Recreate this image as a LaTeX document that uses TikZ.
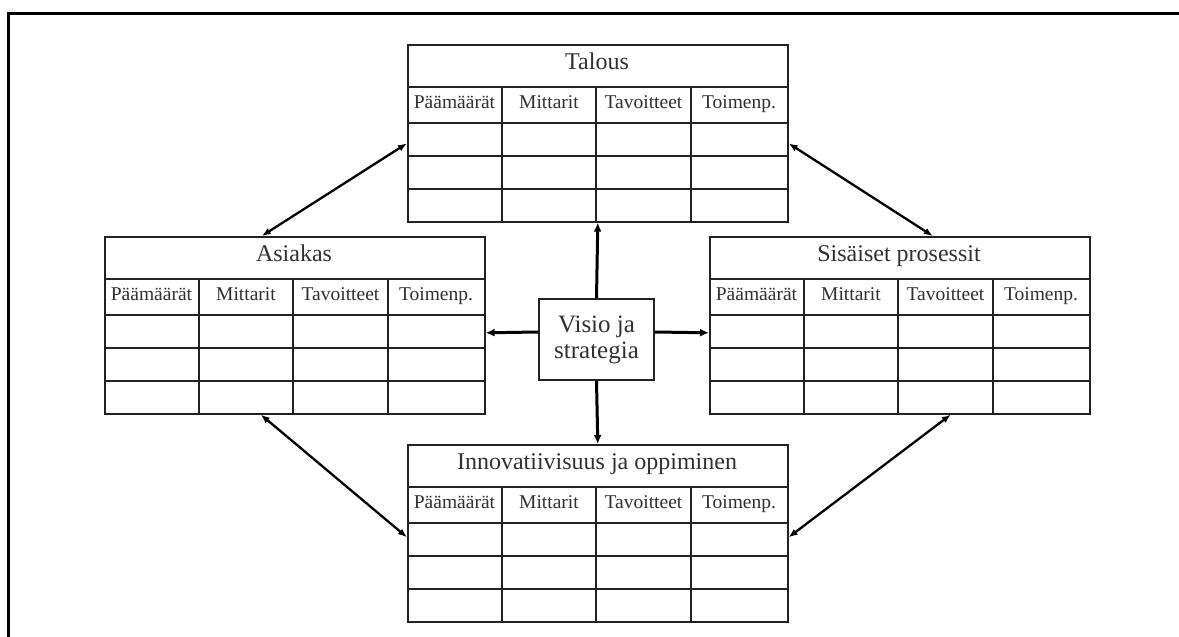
\documentclass[tikz,border=0pt]{standalone}
\usepackage{fontspec}
\setmainfont{Liberation Serif}
\usetikzlibrary{arrows.meta,calc}

\definecolor{ink}{HTML}{222222}
\definecolor{txt}{HTML}{303030}

\tikzset{
  panel/.style={draw=ink, line width=1.6pt, inner sep=0pt, minimum width=380pt, minimum height=177pt},
  rowline/.style={draw=ink, line width=1.6pt},
  colline/.style={draw=ink, line width=2pt},
  paneltitle/.style={text=txt, inner sep=0pt, anchor=base, font=\fontsize{24}{26}\selectfont},
  colhead/.style={text=txt, inner sep=0pt, anchor=base, font=\fontsize{19.5}{21}\selectfont},
  visionbox/.style={draw=ink, line width=1.6pt, minimum width=115pt, minimum height=81pt, inner sep=0pt,
    align=center, text=txt, font=\fontsize{25}{26}\selectfont},
  link/.style={draw=black, line width=2.3pt, {Latex[length=9pt,width=7pt]}-{Latex[length=9pt,width=7pt]}},
  spoke/.style={draw=black, line width=3pt, -{Latex[length=9pt,width=8pt]}},
  frame/.style={draw=black, line width=3pt}
}

% One scorecard perspective: title row, header row and three empty rows
\newcommand\bscpanel[4]{%
  \begin{scope}[shift={(#2,#3)}]
    \node[panel, anchor=north west] (#1) at (0,0) {};
    \draw[rowline] (0,43) -- (380,43) (0,79) -- (380,79) (0,112) -- (380,112) (0,145) -- (380,145);
    \draw[colline] (95,43) -- (95,177) (189,43) -- (189,177) (284,43) -- (284,177);
    \node[paneltitle] (#1-title) at (190,25) {#4};
    \node[colhead] (#1-c1) at (47.5,64) {Päämäärät};
    \node[colhead] (#1-c2) at (142,64) {Mittarit};
    \node[colhead] (#1-c3) at (236.5,64) {Tavoitteet};
    \node[colhead] (#1-c4) at (332,64) {Toimenp.};
  \end{scope}}

\begin{document}
\begin{tikzpicture}[x=1pt, y={(0pt,-1pt)}]
  \useasboundingbox (0,0) rectangle (1179,637);

  % page frame: top and left rules only
  \coordinate (frameTR) at (1179,13);
  \coordinate (frameTL) at (8,13);
  \coordinate (frameBL) at (8,637);
  \draw[frame] (frameTR) -- (frameTL) -- (frameBL);

  \bscpanel{tal}{407}{44}{Talous}
  \bscpanel{asi}{104}{236}{Asiakas}
  \bscpanel{sis}{709}{236}{Sisäiset prosessit}
  \bscpanel{inn}{407}{444}{Innovatiivisuus ja oppiminen}

  \node[visionbox] (vis) at (596.5,339.5) {Visio ja\\strategia};

  % from the vision to each perspective
  \draw[spoke] (vis.north) -- (tal.south);
  \draw[spoke] (vis.south) -- (inn.north);
  \draw[spoke] ([yshift=7.5pt]vis.west) -- ([yshift=-7.5pt]asi.east);
  \draw[spoke] ([yshift=7.5pt]vis.east) -- ([yshift=-7.5pt]sis.west);

  % links between neighbouring perspectives
  \draw[link] ([yshift=-10pt]tal.west) -- ([xshift=-33pt]asi.north);
  \draw[link] ([yshift=-10pt]tal.east) -- ([xshift=33pt]sis.north);
  \draw[link] ([xshift=-34pt]asi.south) -- ([yshift=-4pt]inn.west);
  \draw[link] ([xshift=51pt]sis.south) -- ([yshift=-4pt]inn.east);
\end{tikzpicture}
\end{document}
